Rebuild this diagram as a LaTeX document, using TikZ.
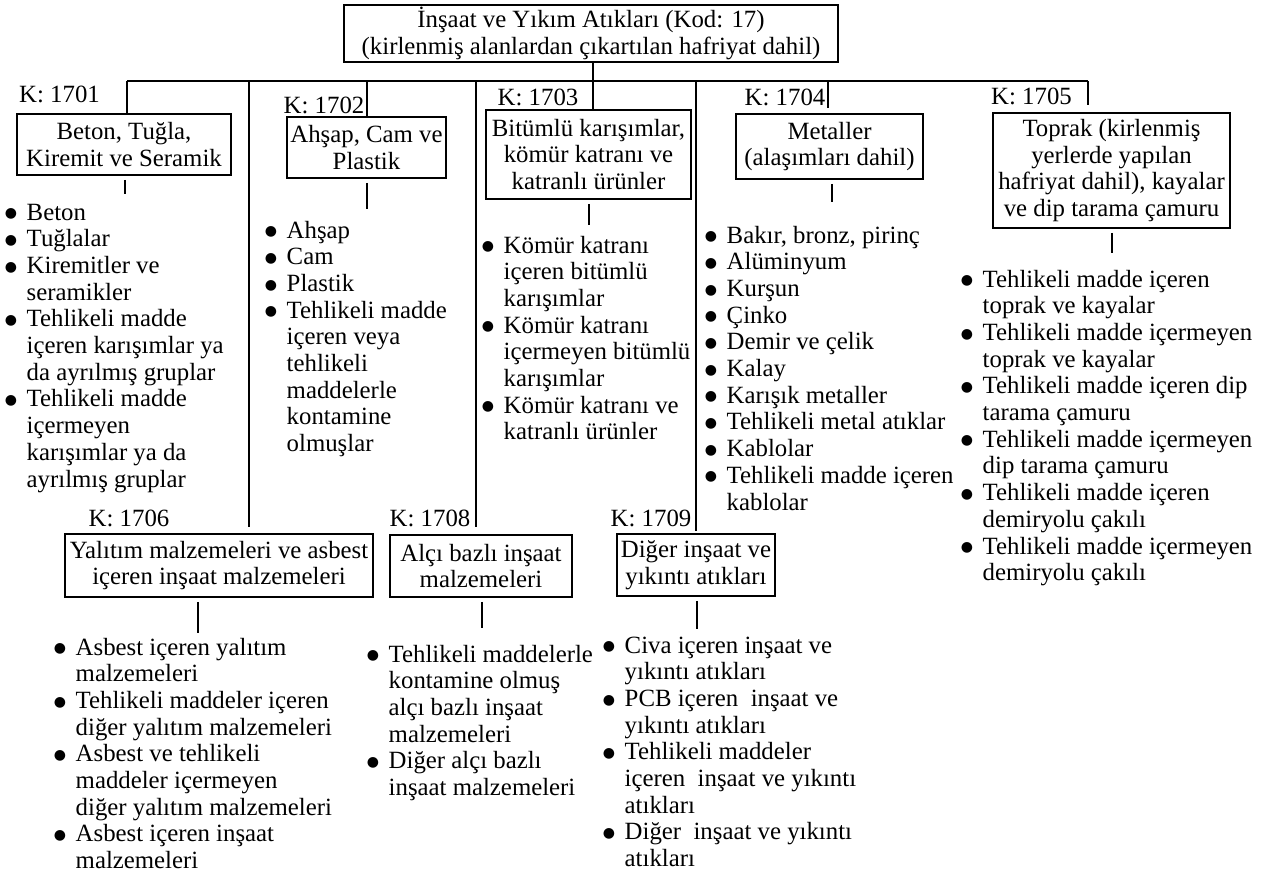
\documentclass[tikz,border=0pt]{standalone}
\usepackage{fontspec}
\setmainfont{Liberation Serif}
\newfontfamily\dotfont{DejaVu Sans}
\usepackage{tikz}
\usetikzlibrary{positioning, calc}

\newcommand{\chartfont}{\fontsize{24.8pt}{26.7pt}\selectfont}
\newcommand{\listdot}{\raisebox{2.4pt}{\dotfont\fontsize{14pt}{14pt}\selectfont ●}}
\newcommand{\itemlist}[1]{\begin{tabular}[t]{@{}c@{\hspace{9.65pt}}l@{}}#1\end{tabular}}

\begin{document}
\begin{tikzpicture}[x=1pt, y=-1pt,
        box/.style={draw, line width=1.6pt, align=center, inner sep=0pt, font=\chartfont},
        code/.style={anchor=base, inner sep=0pt, font=\chartfont},
        items/.style={anchor=base west, inner sep=0pt, font=\chartfont},
        link/.style={line width=1.1pt}]
        \useasboundingbox (0,0) rectangle (1273,876);

        \node[box, minimum width=494pt, minimum height=57pt] (root) at (591,33.5) {İnşaat ve Yıkım Atıkları (Kod: 17)\\(kirlenmiş alanlardan çıkartılan hafriyat dahil)};

        \node[box, minimum width=214pt, minimum height=61pt] (b1701) at (124,144.5) {Beton, Tuğla,\\Kiremit ve Seramik};
        \node[box, minimum width=159pt, minimum height=61pt] (b1702) at (366.5,147.5) {Ahşap, Cam ve\\Plastik};
        \node[box, minimum width=205pt, minimum height=89pt] (b1703) at (588.5,154.5) {Bitümlü karışımlar,\\kömür katranı ve\\katranlı ürünler};
        \node[box, minimum width=187pt, minimum height=65pt] (b1704) at (829.5,146.5) {Metaller\\(alaşımları dahil)};
        \node[box, minimum width=237pt, minimum height=115pt] (b1705) at (1111.5,170.5) {Toprak (kirlenmiş\\yerlerde yapılan\\hafriyat dahil), kayalar\\ve dip tarama çamuru};
        \node[box, minimum width=308pt, minimum height=63pt] (b1706) at (219,565.5) {Yalıtım malzemeleri ve asbest\\içeren inşaat malzemeleri};
        \node[box, minimum width=182pt, minimum height=62pt] (b1708) at (481,566) {Alçı bazlı inşaat\\malzemeleri};
        \node[box, minimum width=158pt, minimum height=62pt] (b1709) at (696,565) {Diğer inşaat ve\\yıkıntı atıkları};

        \node[code] (k1701) at (59.5,102) {K: 1701};
        \node[code] (k1702) at (324,113) {K: 1702};
        \node[code] (k1703) at (538,105) {K: 1703};
        \node[code] (k1704) at (785,105) {K: 1704};
        \node[code] (k1705) at (1031.5,104) {K: 1705};
        \node[code] (k1706) at (129,526) {K: 1706};
        \node[code] (k1708) at (430,526) {K: 1708};
        \node[code] (k1709) at (651,526) {K: 1709};

        \node[items] (l1701) at (4.65,220) {\itemlist{\listdot & Beton\\ \listdot & Tuğlalar\\ \listdot & Kiremitler ve\\ & seramikler\\ \listdot & Tehlikeli madde\\ & içeren karışımlar ya\\ & da ayrılmış gruplar\\ \listdot & Tehlikeli madde\\ & içermeyen\\ & karışımlar ya da\\ & ayrılmış gruplar}};
        \node[items] (l1702) at (264.65,238) {\itemlist{\listdot & Ahşap\\ \listdot & Cam\\ \listdot & Plastik\\ \listdot & Tehlikeli madde\\ & içeren veya\\ & tehlikeli\\ & maddelerle\\ & kontamine\\ & olmuşlar}};
        \node[items] (l1703) at (481.65,253) {\itemlist{\listdot & Kömür katranı\\ & içeren bitümlü\\ & karışımlar\\ \listdot & Kömür katranı\\ & içermeyen bitümlü\\ & karışımlar\\ \listdot & Kömür katranı ve\\ & katranlı ürünler}};
        \node[items] (l1704) at (704.65,243) {\itemlist{\listdot & Bakır, bronz, pirinç\\ \listdot & Alüminyum\\ \listdot & Kurşun\\ \listdot & Çinko\\ \listdot & Demir ve çelik\\ \listdot & Kalay\\ \listdot & Karışık metaller\\ \listdot & Tehlikeli metal atıklar\\ \listdot & Kablolar\\ \listdot & Tehlikeli madde içeren\\ & kablolar}};
        \node[items] (l1705) at (960.65,287) {\itemlist{\listdot & Tehlikeli madde içeren\\ & toprak ve kayalar\\ \listdot & Tehlikeli madde içermeyen\\ & toprak ve kayalar\\ \listdot & Tehlikeli madde içeren dip\\ & tarama çamuru\\ \listdot & Tehlikeli madde içermeyen\\ & dip tarama çamuru\\ \listdot & Tehlikeli madde içeren\\ & demiryolu çakılı\\ \listdot & Tehlikeli madde içermeyen\\ & demiryolu çakılı}};
        \node[items] (l1706) at (53.65,655) {\itemlist{\listdot & Asbest içeren yalıtım\\ & malzemeleri\\ \listdot & Tehlikeli maddeler içeren\\ & diğer yalıtım malzemeleri\\ \listdot & Asbest ve tehlikeli\\ & maddeler içermeyen\\ & diğer yalıtım malzemeleri\\ \listdot & Asbest içeren inşaat\\ & malzemeleri}};
        \node[items] (l1708) at (366.65,662) {\itemlist{\listdot & Tehlikeli maddelerle\\ & kontamine olmuş\\ & alçı bazlı inşaat\\ & malzemeleri\\ \listdot & Diğer alçı bazlı\\ & inşaat malzemeleri}};
        \node[items] (l1709) at (602.65,653) {\itemlist{\listdot & Civa içeren inşaat ve\\ & yıkıntı atıkları\\ \listdot & PCB içeren~ inşaat ve\\ & yıkıntı atıkları\\ \listdot & Tehlikeli maddeler\\ & içeren~ inşaat ve yıkıntı\\ & atıkları\\ \listdot & Diğer~ inşaat ve yıkıntı\\ & atıkları}};

        \coordinate (t1701) at (127,81);
        \coordinate (t1706) at (249,81);
        \coordinate (t1702) at (367,81);
        \coordinate (t1708) at (476,81);
        \coordinate (t1703) at (593,81);
        \coordinate (t1709) at (696,81);
        \coordinate (t1704) at (828,81);
        \coordinate (t1705) at (1088,81);
        \coordinate (s1704) at (828,108);
        \coordinate (s1705) at (1088,105);
        \coordinate (u1706) at (249,527);
        \coordinate (u1708) at (476,527);
        \coordinate (u1709) at (696,531);
        \coordinate (e1701) at (125,194);
        \coordinate (e1702) at (367,209);
        \coordinate (e1703) at (589,225);
        \coordinate (e1704) at (832,202);
        \coordinate (e1705) at (1112,253);
        \coordinate (e1706) at (198,633);
        \coordinate (e1708) at (482,628);
        \coordinate (e1709) at (697,629);

        \draw[line width=2.2pt] (root.south -| t1703) -- (t1703);
        \draw[link]
        (t1701) -- (t1705)
        (t1701) -- (t1701 |- b1701.north)
        (t1702) -- (t1702 |- b1702.north)
        (t1703) -- (t1703 |- b1703.north)
        (t1704) -- (s1704)
        (t1705) -- (s1705)

        (t1706) -- (u1706)
        (t1708) -- (u1708)
        (t1709) -- (u1709)

        ($(b1701.south -| e1701)+(0,4)$) -- (e1701)
        ($(b1702.south -| e1702)+(0,4)$) -- (e1702)
        ($(b1703.south -| e1703)+(0,4)$) -- (e1703)
        ($(b1704.south -| e1704)+(0,4)$) -- (e1704)
        ($(b1705.south -| e1705)+(0,4)$) -- (e1705)
        ($(b1706.south -| e1706)+(0,4)$) -- (e1706)
        ($(b1708.south -| e1708)+(0,4)$) -- (e1708)
        ($(b1709.south -| e1709)+(0,4)$) -- (e1709)
        ;
    \end{tikzpicture}
\end{document}
